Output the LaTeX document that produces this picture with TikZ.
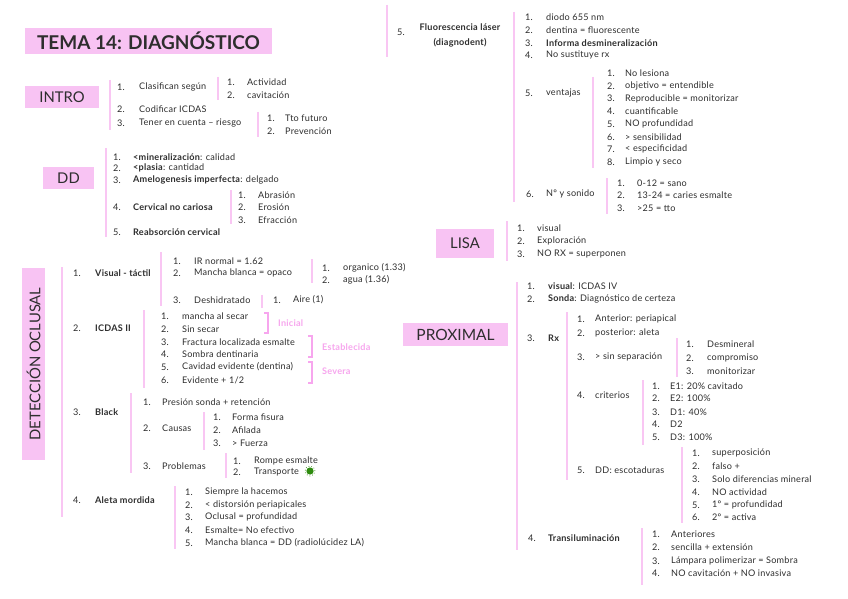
\documentclass[tikz,border=0pt]{standalone}
\usepackage{fontspec}
\setmainfont{Lato}
\newfontfamily\bodyfont[LetterSpace=2.5]{Lato}
\definecolor{boxpink}{HTML}{F8C3F3}
\definecolor{barpink}{HTML}{F9C6F3}
\definecolor{lblpink}{HTML}{F7A6EE}
\definecolor{txtc}{HTML}{2E2E2E}
\definecolor{blob}{HTML}{2E8B0E}
\tikzset{
  txt/.style={anchor=west,inner sep=0pt,text=txtc,font=\bodyfont\fontsize{9.1}{10}\selectfont},
  bar/.style={draw=barpink,line width=1.4pt},
  head/.style={fill=boxpink,inner sep=0pt,text=txtc,font=\fontsize{14.8}{16}\selectfont},
  brk/.style={draw=lblpink,line width=1.2pt},
  lbl/.style={anchor=west,inner sep=0pt,text=lblpink,font=\bodyfont\fontsize{9.1}{10}\selectfont\bfseries}
}
\newcommand\li[6]{\node[txt] (#1a) at (#2,#4) {#5}; \node[txt] (#1) at (#3,#4) {#6};}
\begin{document}
\begin{tikzpicture}[x=1pt,y=-1pt]
\useasboundingbox[fill=white] (0,0) rectangle (848,599);
% ---------- headings
\node[head,minimum width=247pt,minimum height=26pt,font=\fontsize{19}{22}\selectfont\bfseries] (title) at (148.5,41) {TEMA 14: DIAGNÓSTICO};
\node[head,minimum width=74pt,minimum height=22pt] (intro) at (62,97) {INTRO};
\node[head,minimum width=51pt,minimum height=22pt] (dd) at (68.5,178) {DD};
\node[head,minimum width=192pt,minimum height=23pt,rotate=90] (det) at (33.5,364) {DETECCIÓN OCLUSAL};
\node[head,minimum width=58pt,minimum height=29pt] (lisa) at (465,243) {LISA};
\node[head,minimum width=105pt,minimum height=23pt,font=\fontsize{15.5}{16}\selectfont] (prox) at (455.5,334.5) {PROXIMAL};
% ---------- bars
\draw[bar] (110,80) -- (110,130);
\draw[bar] (218,77) -- (218,100);
\draw[bar] (258,112) -- (258,137);
\draw[bar] (106,148) -- (106,237);
\draw[bar] (231,190) -- (231,224);
\draw[bar] (62,267) -- (62,517);
\draw[bar] (161,252) -- (161,306);
\draw[bar] (312,259) -- (312,283);
\draw[bar] (262,295) -- (262,308);
\draw[bar] (144,310) -- (144,388);
\draw[bar] (131,393) -- (131,473);
\draw[bar] (204,412) -- (204,450);
\draw[bar] (226,453) -- (226,478);
\draw[bar] (175,486) -- (175,549);
\draw[bar] (387,5) -- (387,57);
\draw[bar] (514,12) -- (514,202);
\draw[bar] (593,77) -- (593,168);
\draw[bar] (607,178) -- (607,214);
\draw[bar] (507,221) -- (507,261);
\draw[bar] (517,282) -- (517,550);
\draw[bar] (567,312) -- (567,480);
\draw[bar] (677,338) -- (677,377);
\draw[bar] (643,380) -- (643,445);
\draw[bar] (682,447) -- (682,523);
\draw[bar] (642,528) -- (642,585);
% ---------- brackets
\draw[brk] (264,313) -- (268,313) -- (268,333) -- (264,333);
\node[lbl] (ini) at (278,323) {Inicial};
\draw[brk] (308,336) -- (312,336) -- (312,357) -- (308,357);
\node[lbl] (est) at (322,347) {Establecida};
\draw[brk] (308,362) -- (312,362) -- (312,383) -- (308,383);
\node[lbl] (sev) at (322,371) {Severa};
% ---------- INTRO
\li{in1}{117}{139}{87}{1.}{Clasifican según}
\li{in11}{227}{247}{82}{1.}{Actividad}
\li{in12}{227}{247}{95}{2.}{cavitación}
\li{in2}{117}{139}{109}{2.}{Codificar ICDAS}
\li{in3}{117}{139}{123}{3.}{Tener en cuenta – riesgo}
\li{in31}{267}{285}{118}{1.}{Tto futuro}
\li{in32}{267}{285}{131}{2.}{Prevención}
% ---------- DD
\li{dd1}{113}{133}{157}{1.}{\textbf{<mineralización}: calidad}
\li{dd2}{113}{133}{168}{2.}{\textbf{<plasia}: cantidad}
\li{dd3}{113}{133}{180}{3.}{\textbf{Amelogenesis imperfecta}: delgado}
\li{dd4}{113}{133}{207}{4.}{\textbf{Cervical no cariosa}}
\li{dd5}{113}{133}{232}{5.}{\textbf{Reabsorción cervical}}
\li{dd41}{238}{258}{195}{1.}{Abrasión}
\li{dd42}{238}{258}{207}{2.}{Erosión}
\li{dd43}{238}{258}{220}{3.}{Efracción}
% ---------- DETECCION OCLUSAL
\li{v}{73}{95}{273}{1.}{\textbf{Visual - táctil}}
\li{v1}{173}{194}{261}{1.}{IR normal = 1.62}
\li{v2}{173}{194}{273}{2.}{Mancha blanca = opaco}
\li{v21}{322}{343}{268}{1.}{organico (1.33)}
\li{v22}{322}{343}{280}{2.}{agua (1.36)}
\li{v3}{173}{194}{300}{3.}{Deshidratado}
\li{v31}{273}{293}{300}{1.}{Aire (1)}
\li{ic}{73}{95}{328}{2.}{\textbf{ICDAS II}}
\li{ic1}{161}{182}{316}{1.}{mancha al secar}
\li{ic2}{161}{182}{329}{2.}{Sin secar}
\li{ic3}{161}{182}{342}{3.}{Fractura localizada esmalte}
\li{ic4}{161}{182}{354}{4.}{Sombra dentinaria}
\li{ic5}{161}{182}{367}{5.}{Cavidad evidente (dentina)}
\li{ic6}{161}{182}{380}{6.}{Evidente + 1/2}
\li{bl}{73}{95}{412}{3.}{\textbf{Black}}
\li{bl1}{143}{162}{402}{1.}{Presión sonda + retención}
\li{bl2}{143}{162}{428}{2.}{Causas}
\li{bl21}{213}{232}{417}{1.}{Forma fisura}
\li{bl22}{213}{232}{430}{2.}{Afilada}
\li{bl23}{213}{232}{443}{3.}{> Fuerza}
\li{bl3}{143}{162}{466}{3.}{Problemas}
\li{bl31}{233}{254}{461}{1.}{Rompe esmalte}
\li{bl32}{233}{254}{472}{2.}{Transporte}
\fill[blob] (310,471) circle (3.6pt);
\draw[blob!80,dotted,line width=0.8pt] (310,471) circle (5pt);
\li{al}{73}{95}{500}{4.}{\textbf{Aleta mordida}}
\li{al1}{185}{205}{492}{1.}{Siempre la hacemos}
\li{al2}{185}{205}{505}{2.}{< distorsión periapicales}
\li{al3}{185}{205}{517}{3.}{Oclusal = profundidad}
\li{al4}{185}{205}{530}{4.}{Esmalte= No efectivo}
\li{al5}{185}{205}{543}{5.}{Mancha blanca = DD (radiolúcidez LA)}
% ---------- FLUORESCENCIA
\node[txt] (fl5) at (397,32) {5.};
\node[txt,anchor=center,align=center,font=\bodyfont\fontsize{9.1}{15}\selectfont\bfseries] (fl) at (460,35.5) {Fluorescencia láser\\(diagnodent)};
\li{f1}{525}{546}{17}{1.}{diodo 655 nm}
\li{f2}{525}{546}{30}{2.}{dentina = fluorescente}
\li{f3}{525}{546}{43}{3.}{\textbf{Informa desmineralización}}
\li{f4}{525}{546}{55}{4.}{No sustituye rx}
\li{f5}{525}{546}{93}{5.}{ventajas}
\li{f51}{607}{625}{73}{1.}{No lesiona}
\li{f52}{607}{625}{86}{2.}{objetivo = entendible}
\li{f53}{607}{625}{98.5}{3.}{Reproducible = monitorizar}
\li{f54}{607}{625}{111}{4.}{cuantificable}
\li{f55}{607}{625}{124}{5.}{NO profundidad}
\li{f56}{607}{625}{137}{6.}{> sensibilidad}
\li{f57}{607}{625}{149}{7.}{< especificidad}
\li{f58}{607}{625}{162}{8.}{Limpio y seco}
\li{f6}{526}{546}{194}{6.}{Nº y sonido}
\li{f61}{617}{637}{183}{1.}{0-12 = sano}
\li{f62}{617}{637}{195}{2.}{13-24 = caries esmalte}
\li{f63}{617}{637}{208}{3.}{>25 = tto}
% ---------- LISA
\li{ls1}{517}{537}{228}{1.}{visual}
\li{ls2}{517}{537}{241}{2.}{Exploración}
\li{ls3}{517}{537}{254}{3.}{NO RX = superponen}
% ---------- PROXIMAL
\li{p1}{527}{548}{286}{1.}{\textbf{visual}: ICDAS IV}
\li{p2}{527}{548}{299}{2.}{\textbf{Sonda}: Diagnóstico de certeza}
\li{p3}{527}{548}{338}{3.}{\textbf{Rx}}
\li{p31}{577}{595}{319}{1.}{Anterior: periapical}
\li{p32}{577}{595}{333}{2.}{posterior: aleta}
\li{p33}{577}{595}{357}{3.}{> sin separación}
\li{p331}{686}{707}{344}{1.}{Desmineral}
\li{p332}{686}{707}{358}{2.}{compromiso}
\li{p333}{686}{707}{371}{3.}{monitorizar}
\li{p34}{577}{595}{395}{4.}{criterios}
\li{p341}{652}{670}{386}{1.}{E1: 20\% cavitado}
\li{p342}{652}{670}{398}{2.}{E2: 100\%}
\li{p343}{652}{670}{412}{3.}{D1: 40\%}
\li{p344}{652}{670}{424}{4.}{D2}
\li{p345}{652}{670}{437}{5.}{D3: 100\%}
\li{p35}{577}{595}{470}{5.}{DD: escotaduras}
\li{p351}{692}{712}{453}{1.}{superposición}
\li{p352}{692}{712}{466}{2.}{falso +}
\li{p353}{692}{712}{479}{3.}{Solo diferencias mineral}
\li{p354}{692}{712}{492}{4.}{NO actividad}
\li{p355}{692}{712}{505}{5.}{1º = profundidad}
\li{p356}{692}{712}{517}{6.}{2º = activa}
\li{p4}{528}{548}{538}{4.}{\textbf{Transiluminación}}
\li{p41}{652}{671}{534}{1.}{Anteriores}
\li{p42}{652}{671}{547}{2.}{sencilla + extensión}
\li{p43}{652}{671}{561}{3.}{Lámpara polimerizar = Sombra}
\li{p44}{652}{671}{573}{4.}{NO cavitación + NO invasiva}
\end{tikzpicture}
\end{document}
